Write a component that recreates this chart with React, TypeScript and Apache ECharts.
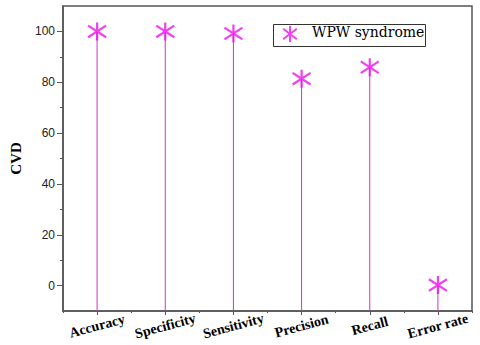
import React, { useEffect, useRef } from "react";
import * as echarts from "echarts";

const categories = ["Accuracy", "Specificity", "Sensitivity", "Precision", "Recall", "Error rate"];
const wpwValues = [100, 100, 99.2, 81.4, 85.9, 0.2];
const yMajorTicks = [0, 20, 40, 60, 80, 100];
const yMinorTicks = [10, 30, 50, 70, 90];
const seriesName = "WPW syndrome";

const starPath = "path://M10,0L10,20M1.5,3.5L18.5,16.5M1.5,16.5L18.5,3.5";
const serif = "Liberation Serif";

export default function App() {
  const ref = useRef<HTMLDivElement>(null);
  useEffect(() => {
    if (!ref.current) return;
    const chart = echarts.init(ref.current, undefined, { renderer: "svg" });
    const yMin = -10;
    chart.setOption({
      animation: false,
      backgroundColor: "#ffffff",
      textStyle: { fontFamily: serif },
      grid: {
        left: 58,
        right: 8,
        top: 6,
        bottom: 34,
        show: true,
        borderColor: "#555",
        borderWidth: 1.5,
      },
      legend: {
        left: 280,
        top: 25,
        padding: 0,
        itemWidth: 20,
        itemHeight: 16,
        formatter: () => "",
        data: [seriesName],
      },
      graphic: [
        {
          type: "rect",
          left: 271,
          top: 22,
          shape: { width: 152, height: 22 },
          style: { fill: "none", stroke: "#333", lineWidth: 1 },
          z: 10,
        },
        {
          type: "text",
          left: 312,
          top: 25,
          style: { text: seriesName, fontFamily: "DejaVu Serif", fontSize: 14, fill: "#000" },
          z: 10,
        },
      ],
      xAxis: [
        {
          type: "category",
          data: categories,
          boundaryGap: true,
          axisLine: { show: true, onZero: false, lineStyle: { color: "#555", width: 1.5 } },
          axisTick: { show: true, alignWithLabel: true, length: 4, lineStyle: { color: "#555" } },
          axisLabel: {
            interval: 0,
            hideOverlap: false,
            rotate: 15,
            align: "center",
            verticalAlign: "middle",
            margin: 15,
            fontFamily: serif,
            fontWeight: "bold",
            fontSize: 14,
            color: "#000",
          },
        },
        {
          type: "category",
          data: categories,
          boundaryGap: true,
          position: "bottom",
          axisLine: { show: false, onZero: false },
          axisTick: { show: true, interval: 0, alignWithLabel: false, length: 2, lineStyle: { color: "#555" } },
          axisLabel: { show: false },
        },
      ],
      yAxis: [
        {
          type: "value",
          min: yMin,
          max: 110,
          name: "CVD",
          nameLocation: "middle",
          nameGap: 40,
          nameTextStyle: { fontFamily: serif, fontWeight: "bold", fontSize: 15, color: "#000" },
          splitLine: { show: false },
          axisLine: { show: true, onZero: false, lineStyle: { color: "#555", width: 1.5 } },
          axisTick: { show: true, length: 6, customValues: yMajorTicks, lineStyle: { color: "#555" } },
          axisLabel: {
            customValues: yMajorTicks,
            margin: 8,
            fontFamily: "Liberation Sans",
            fontSize: 12,
            color: "#222",
          },
        },
        {
          type: "value",
          min: yMin,
          max: 110,
          position: "left",
          splitLine: { show: false },
          axisLine: { show: false, onZero: false },
          axisTick: { show: true, length: 3, customValues: yMinorTicks, lineStyle: { color: "#555" } },
          axisLabel: { show: false },
        },
      ],
      series: [
        {
          type: "custom",
          name: "stems",
          xAxisIndex: 0,
          yAxisIndex: 0,
          silent: true,
          data: wpwValues.map((v, i) => [i, v]),
          encode: { x: 0, y: 1 },
          renderItem: (params: any, api: any) => {
            const i = api.value(0);
            const v = api.value(1);
            const p0 = api.coord([i, yMin]);
            const p1 = api.coord([i, v]);
            return {
              type: "line",
              shape: { x1: p0[0], y1: p0[1], x2: p1[0], y2: p1[1] },
              style: { stroke: "#cc33cc", lineWidth: 1 },
            };
          },
          z: 1,
        },
        {
          type: "scatter",
          name: seriesName,
          xAxisIndex: 0,
          yAxisIndex: 0,
          data: wpwValues,
          symbol: starPath,
          symbolSize: 18,
          itemStyle: { color: "rgba(0,0,0,0)", borderColor: "#ee10ee", borderWidth: 2.2 },
          z: 3,
        },
      ],
    });
    return () => chart.dispose();
  }, []);
  return (
    <div
      ref={ref}
      style={{ position: "absolute", left: 0, top: 0, width: 480, height: 345 }}
    />
  );
}
